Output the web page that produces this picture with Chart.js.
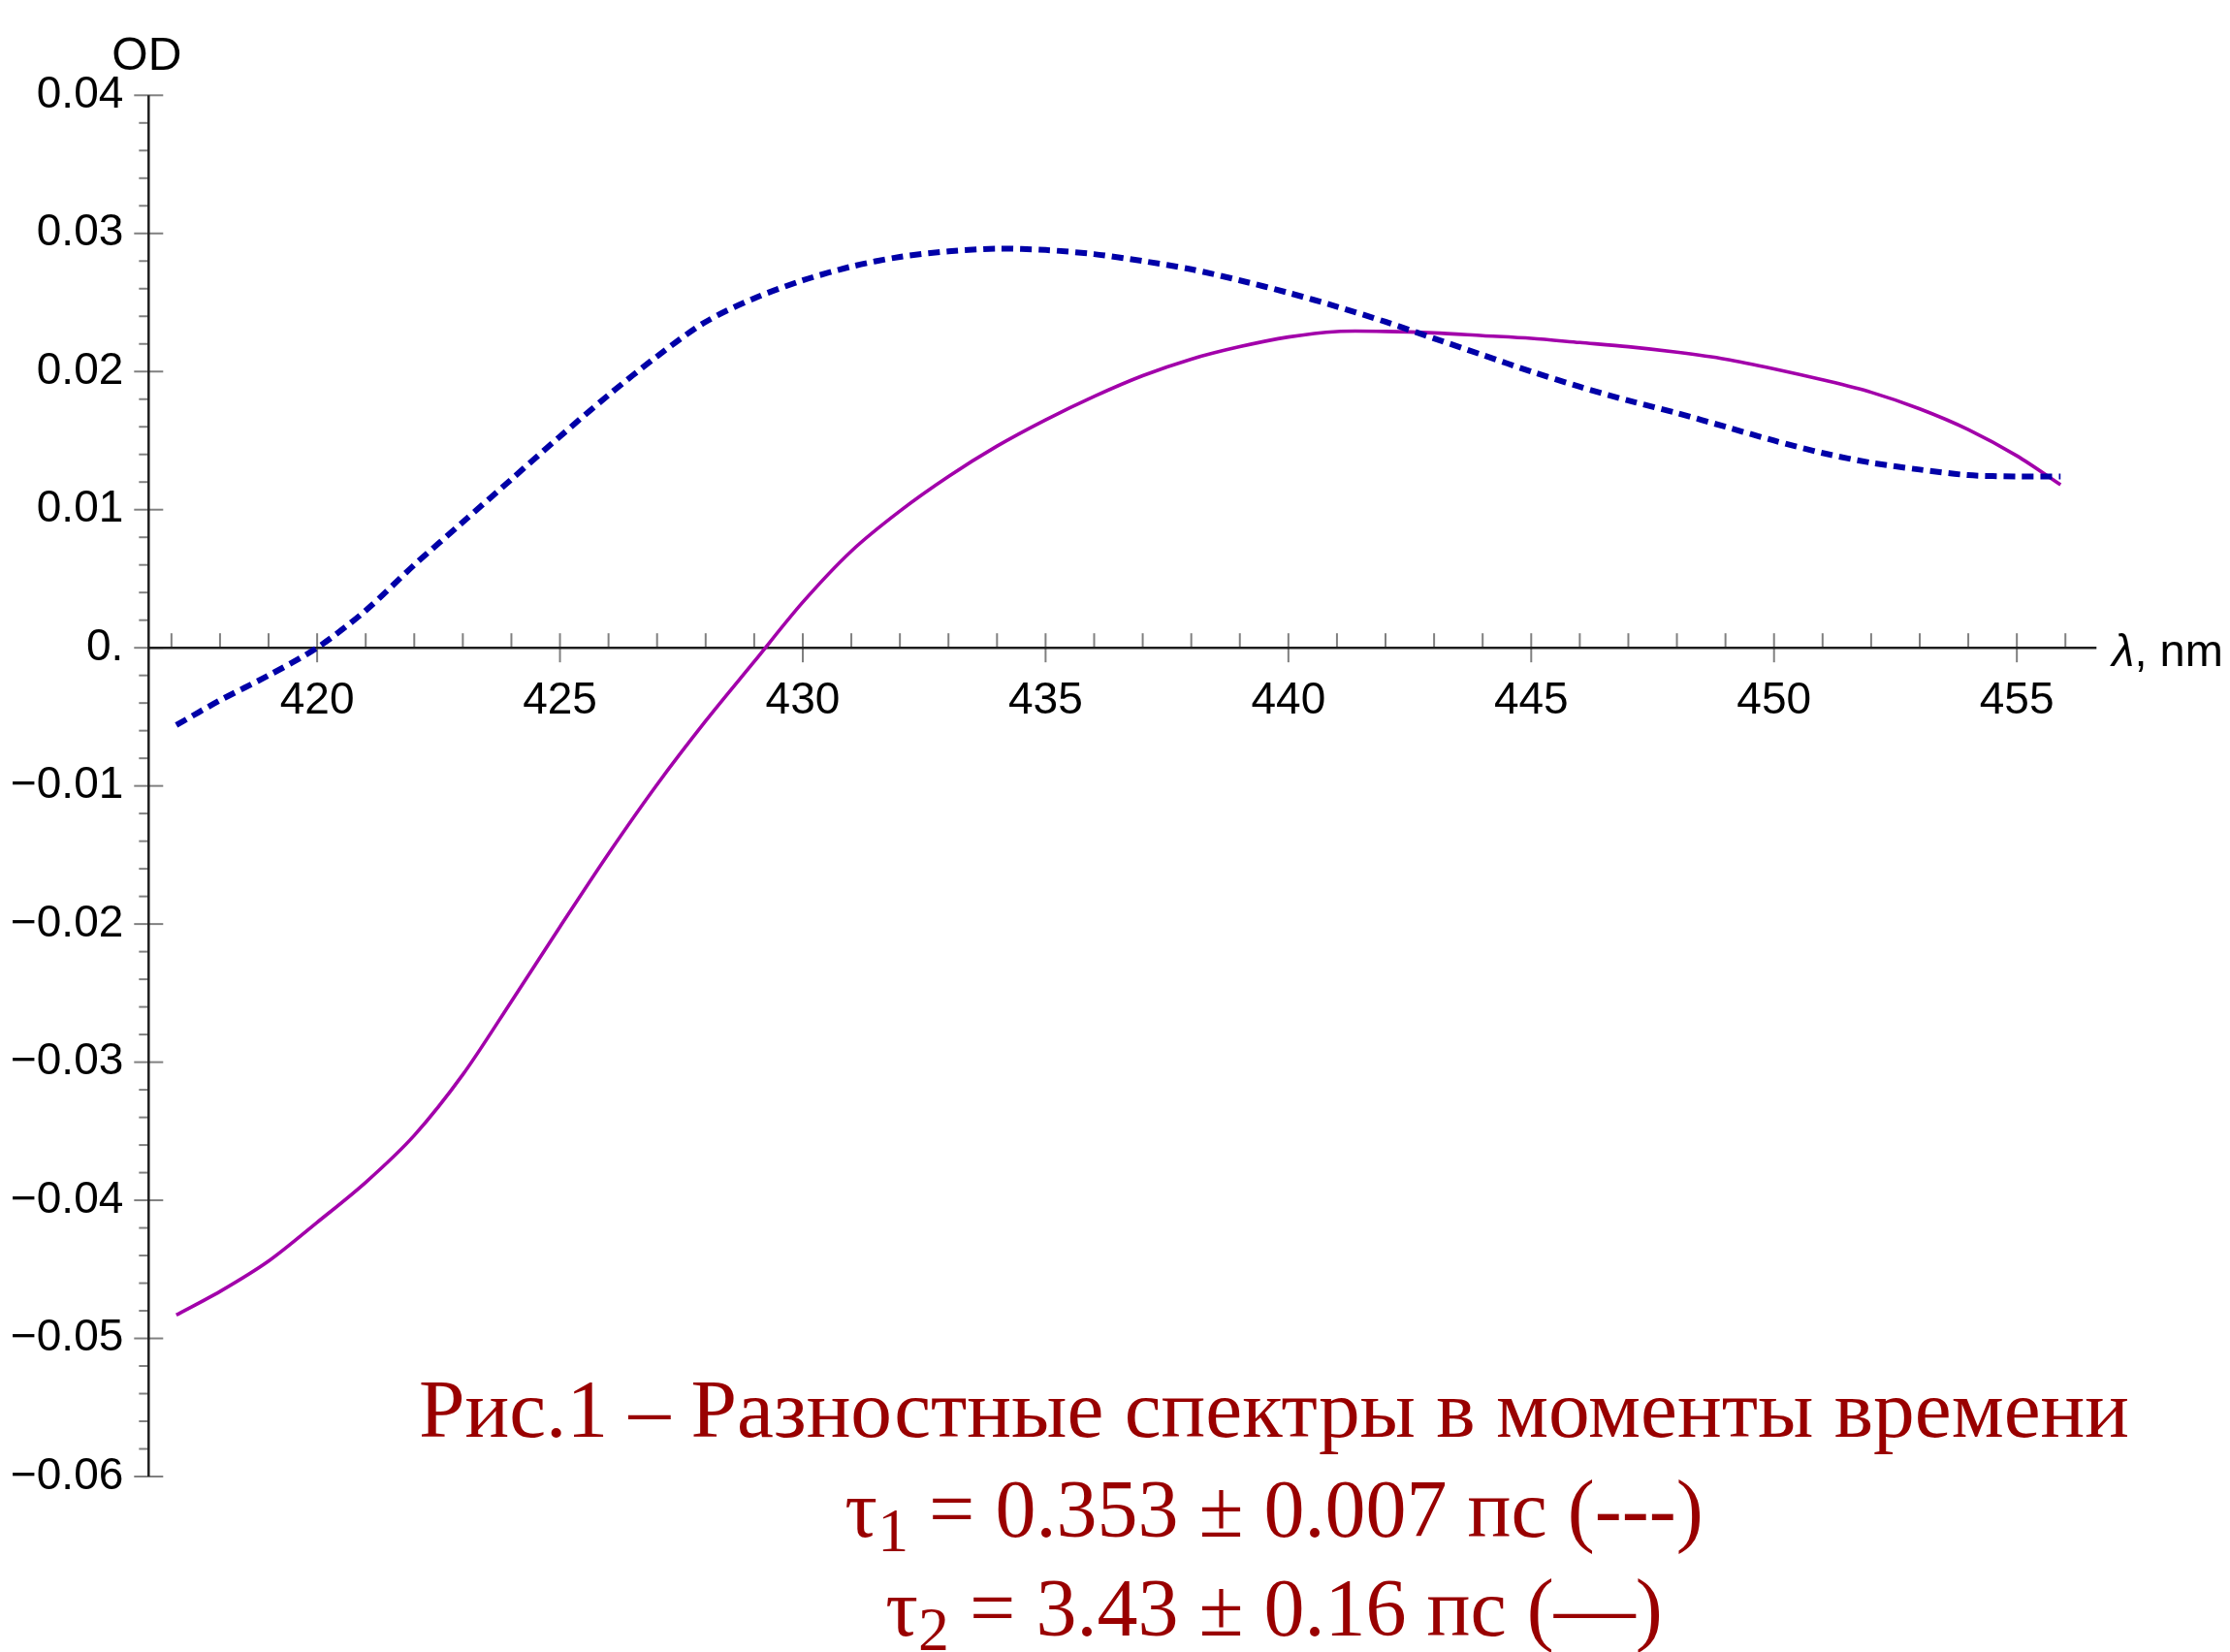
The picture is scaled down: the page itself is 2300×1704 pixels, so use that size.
<!DOCTYPE html>
<html>
<head>
<meta charset="utf-8">
<script src="https://cdn.jsdelivr.net/npm/chart.js@4.4.1/dist/chart.umd.min.js"></script>
<style>
html,body{margin:0;padding:0;background:#fff;}
#wrap{position:relative;width:2300px;height:1704px;overflow:hidden;background:#fff;}
#c{position:absolute;left:0;top:0;}
.cap{position:absolute;left:0;width:2628px;text-align:center;font-family:'Liberation Serif','Times New Roman',serif;color:#990000;line-height:1;white-space:nowrap;}
.cap sub{font-size:0.76em;vertical-align:-0.24em;line-height:0;}
</style>
</head>
<body>
<div id="wrap">
<canvas id="c" width="2300" height="1704"></canvas>
<div class="cap" style="top:1411px;font-size:85.4px">Рис.1 – Разностные спектры в моменты времени</div>
<div class="cap" style="top:1515px;font-size:84px">τ<sub>1</sub> = 0.353 ± 0.007 пс (---)</div>
<div class="cap" style="top:1617px;font-size:84px">τ<sub>2</sub> = 3.43 ± 0.16 пс (—)</div>
</div>
<script>
// ---- data ----
const wavelengths = [417.1,418,419,420,421,422,423,424,425,426,427,428,429,430,431,432,433,434,435,436,437,438,439,440,441,442,443,444,445,446,447,448,449,450,451,452,453,454,455,455.9];
// tau1 = 0.353 ps (dotted)
const odTau1 = [-0.0056,-0.0038,-0.0020,0.0000,0.0027,0.0060,0.0091,0.0122,0.0153,0.0183,0.0211,0.0236,0.0253,0.0266,0.0276,0.0283,0.0287,0.0289,0.0288,0.0285,0.0280,0.0274,0.0266,0.0257,0.0247,0.0236,0.0224,0.0212,0.0200,0.0189,0.0179,0.0170,0.0160,0.0150,0.0141,0.0134,0.0129,0.0125,0.0124,0.0124];
// tau2 = 3.43 ps (solid)
const odTau2 = [-0.0483,-0.0466,-0.0444,-0.0416,-0.0387,-0.0353,-0.0309,-0.0256,-0.0202,-0.0149,-0.0099,-0.0053,-0.0010,0.0033,0.0070,0.0099,0.0124,0.0146,0.0165,0.0182,0.0197,0.0209,0.0218,0.0225,0.0229,0.0229,0.0228,0.0226,0.0224,0.0221,0.0218,0.0214,0.0209,0.0202,0.0194,0.0185,0.0173,0.0158,0.0139,0.0118];
const xTickValues = [420,425,430,435,440,445,450,455];
const xTickLabels = ['420','425','430','435','440','445','450','455'];
const yTickValues = [-0.06,-0.05,-0.04,-0.03,-0.02,-0.01,0,0.01,0.02,0.03,0.04];
const yTickLabels = ['\u22120.06','\u22120.05','\u22120.04','\u22120.03','\u22120.02','\u22120.01','0.','0.01','0.02','0.03','0.04'];
const xRange = [416.53, 456.64];
const yRange = [-0.06, 0.04];
const xMinorStep = 1;
const yMinorStep = 0.002;
const yAxisTitle = 'OD';
const xAxisTitleSymbol = 'λ';
const xAxisTitleRest = ', nm';

const tickFont = "'Liberation Sans',Arial,sans-serif";

const axesPlugin = {
  id: 'mmaAxes',
  beforeDatasetsDraw(chart) {
    const {ctx, chartArea: a, scales: {x, y}} = chart;
    const x0 = a.left;
    const y0 = y.getPixelForValue(0);
    ctx.save();
    ctx.lineCap = 'butt';
    ctx.strokeStyle = '#808080';
    ctx.lineWidth = 2;
    const nY = Math.round((yRange[1] - yRange[0]) / yMinorStep);
    for (let k = 0; k <= nY; k++) {
      const v = yRange[0] + k * yMinorStep;
      const py = y.getPixelForValue(v);
      const major = k % 5 === 0;
      ctx.beginPath();
      ctx.moveTo(x0 - (major ? 15 : 10), py);
      ctx.lineTo(x0 + (major ? 15 : 0), py);
      ctx.stroke();
    }
    for (let n = Math.ceil(xRange[0]); n <= xRange[1]; n += xMinorStep) {
      const px = x.getPixelForValue(n);
      const major = n % 5 === 0;
      ctx.beginPath();
      ctx.moveTo(px, y0 - 15);
      ctx.lineTo(px, y0 + (major ? 15 : 0));
      ctx.stroke();
    }
    ctx.strokeStyle = '#1e1e1e';
    ctx.lineWidth = 2.5;
    ctx.beginPath();
    ctx.moveTo(x0, y.getPixelForValue(yRange[1]));
    ctx.lineTo(x0, y.getPixelForValue(yRange[0]));
    ctx.stroke();
    ctx.beginPath();
    ctx.moveTo(x0, y0);
    ctx.lineTo(a.right, y0);
    ctx.stroke();
    // axis titles
    ctx.fillStyle = '#000';
    ctx.textBaseline = 'alphabetic';
    ctx.font = "48px " + tickFont;
    ctx.textAlign = 'center';
    ctx.fillText(yAxisTitle, x0 - 2, y.getPixelForValue(yRange[1]) - 26);
    ctx.textAlign = 'left';
    ctx.font = "italic 47px " + tickFont;
    const lx = a.right + 16;
    const ly = y0 + 19;
    ctx.fillText(xAxisTitleSymbol, lx, ly);
    const w = ctx.measureText(xAxisTitleSymbol).width;
    ctx.font = "47px " + tickFont;
    ctx.fillText(xAxisTitleRest, lx + w, ly);
    ctx.restore();
  }
};

new Chart(document.getElementById('c'), {
  type: 'line',
  data: {
    datasets: [
      {
        label: 'τ1 = 0.353 ps',
        data: wavelengths.map((w, i) => ({x: w, y: odTau1[i]})),
        borderColor: '#0000a8',
        borderWidth: 6,
        borderDash: [12, 7],
        borderCapStyle: 'butt',
        pointRadius: 0,
        fill: false,
        tension: 0.3
      },
      {
        label: 'τ2 = 3.43 ps',
        data: wavelengths.map((w, i) => ({x: w, y: odTau2[i]})),
        borderColor: '#a200aa',
        borderWidth: 3.6,
        pointRadius: 0,
        fill: false,
        tension: 0.3
      }
    ]
  },
  options: {
    responsive: false,
    animation: false,
    devicePixelRatio: 1,
    layout: {padding: {left: 0, right: 137.7, top: 98.3, bottom: 181}},
    plugins: {legend: {display: false}, tooltip: {enabled: false}},
    scales: {
      x: {
        type: 'linear',
        position: {y: 0},
        min: xRange[0],
        max: xRange[1],
        grid: {display: false, drawTicks: false},
        border: {display: false},
        afterBuildTicks: s => { s.ticks = xTickValues.map(v => ({value: v})); },
        ticks: {
          autoSkip: false,
          maxRotation: 0,
          padding: 28,
          color: '#000',
          font: {family: tickFont, size: 46},
          callback: (v, i) => xTickLabels[i]
        }
      },
      y: {
        type: 'linear',
        position: 'left',
        min: yRange[0],
        max: yRange[1],
        grid: {display: false, drawTicks: false},
        border: {display: false},
        afterFit: s => { s.width = 153.3; },
        afterBuildTicks: s => { s.ticks = yTickValues.map(v => ({value: v})); },
        ticks: {
          autoSkip: false,
          padding: 26,
          color: '#000',
          font: {family: tickFont, size: 46},
          callback: (v, i) => yTickLabels[i]
        }
      }
    }
  },
  plugins: [axesPlugin]
});
</script>
</body>
</html>
